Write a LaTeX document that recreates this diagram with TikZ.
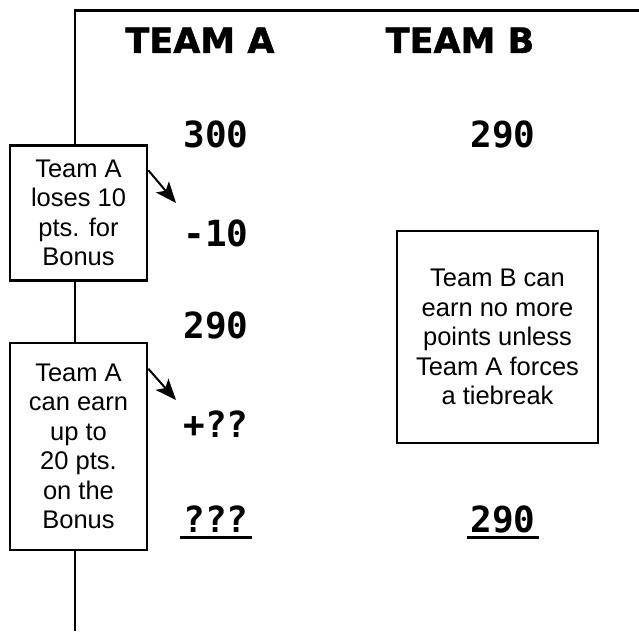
\documentclass[tikz,border=0pt]{standalone}
\usepackage{fontspec}
\usetikzlibrary{arrows.meta}
\newfontfamily\boxfont{Liberation Sans}
\newfontfamily\headfont{DejaVu Sans}[BoldFeatures={FakeBold=1.3}]
\newfontfamily\numfont{DejaVu Sans Mono}
\begin{document}
\begin{tikzpicture}[x=1pt,y=-1pt,
  frame/.style={line width=2.5pt},
  infobox/.style={draw,line width=2.5pt,fill=white,inner sep=0pt,align=center,
    font=\boxfont\fontsize{25.5}{29.5}\selectfont},
  head/.style={anchor=base,font=\headfont\bfseries\fontsize{35}{40}\selectfont},
  num/.style={anchor=base,font=\numfont\bfseries\fontsize{36}{40}\selectfont},
  arr/.style={line width=2pt,-{Stealth[length=21pt,width=17pt,inset=5pt]}},
  uline/.style={line width=3pt}]
\useasboundingbox (0,0) rectangle (639,631);
% frame
\coordinate (tr) at (639,10.5);
\coordinate (tl) at (75,10.5);
\coordinate (bot) at (75,631);
% boxes
\node[infobox,minimum width=137pt,minimum height=135pt] (b1) at (78.5,213)
  {Team A\\loses 10\\pts. for\\Bonus};
\node[infobox,minimum width=137pt,minimum height=207pt] (b2) at (78.5,446.5)
  {Team A\\can earn\\up to\\20 pts.\\on the\\Bonus};
\node[infobox,minimum width=201pt,minimum height=212pt] (b3) at (497.5,337)
  {Team B can\\earn no more\\points unless\\Team A forces\\a tiebreak};
\draw[frame] (tr) -- (tl) -- (tl |- b1.north);
\draw[frame] (tl |- b1.south) -- (tl |- b2.north);
\draw[frame] (tl |- b2.south) -- (bot);
% headers
\node[head] (ha) at (200,53) {TEAM A};
\node[head] (hb) at (460,53) {TEAM B};
% numbers
\node[num] (a1) at (216,148) {300};
\node[num] (b1n) at (503,148) {290};
\node[num] (a2) at (216,246) {-10};
\node[num] (a3) at (216,338) {290};
\node[num] (a4) at (216,437) {+??};
\node[num] (a5) at (216,532) {???};
\node[num] (b5) at (503,532) {290};
\draw[uline] ([yshift=-5pt]a5.base west) -- ([yshift=-5pt]a5.base east);
\draw[uline] ([yshift=-5pt]b5.base west) -- ([yshift=-5pt]b5.base east);
% arrows
\coordinate (e1) at (176,203);
\coordinate (e2) at (176,400);
\draw[arr] ([yshift=-26pt]b1.north east) -- (e1);
\draw[arr] ([yshift=-27pt]b2.north east) -- (e2);
\end{tikzpicture}
\end{document}
